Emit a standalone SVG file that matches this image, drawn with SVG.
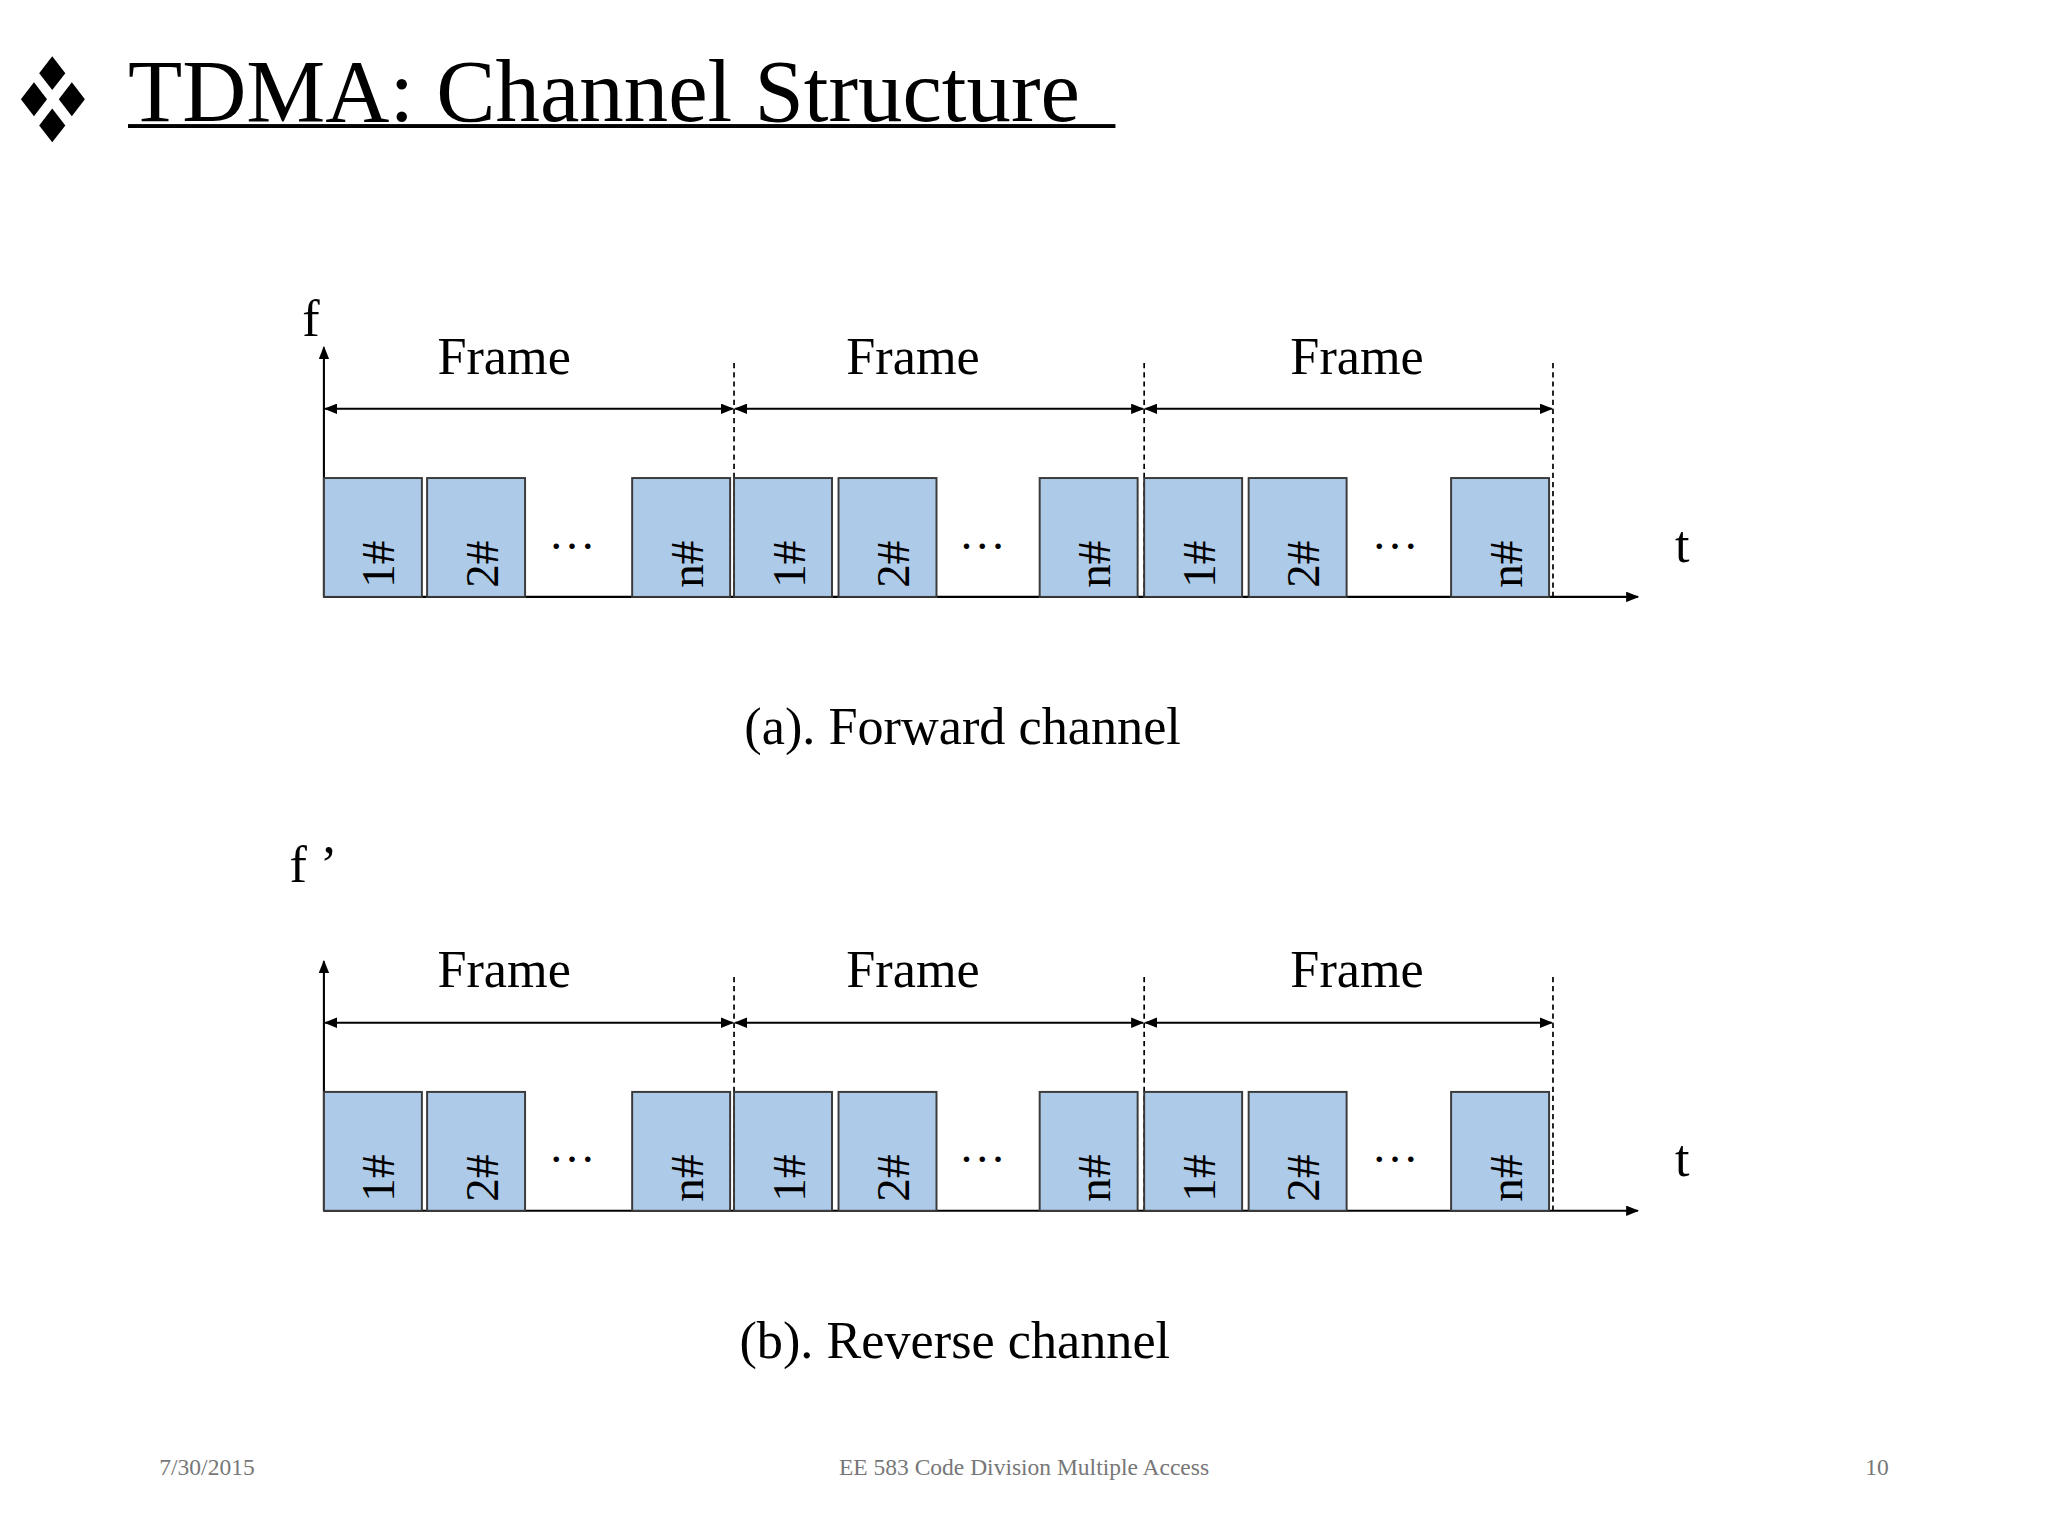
<svg xmlns="http://www.w3.org/2000/svg" width="2048" height="1536" viewBox="0 0 2048 1536">
<defs>
<style>
text{font-family:"Liberation Serif","Times New Roman",serif;fill:#000}
.slot{fill:#adcbe8;stroke:#3a3a3a;stroke-width:1.5}
.sl{font-size:36px}
.fr{font-size:40px;text-anchor:middle}
.ln{stroke:#000;stroke-width:1.6;fill:none}
.ds{stroke:#000;stroke-width:1.3;stroke-dasharray:4,3;fill:none}
.ft{font-size:18px;fill:#777}
</style>
<marker id="ah" markerWidth="10" markerHeight="8" refX="9" refY="4" orient="auto-start-reverse" markerUnits="userSpaceOnUse"><path d="M0,0 L10,4 L0,8 z" fill="#000"/></marker>
</defs>
<rect width="2048" height="1536" fill="#fff"/>
<g transform="scale(1.306122)">
<g id="title">
<polygon points="40,43 50,56 40,69 30,56" fill="#000"/>
<polygon points="26,63 36,76 26,89 16,76" fill="#000"/>
<polygon points="55,63 65,76 55,89 45,76" fill="#000"/>
<polygon points="40,83 50,96 40,109 30,96" fill="#000"/>
<text x="98" y="93" style="font-size:68px">TDMA: Channel Structure</text>
<rect x="98" y="95" width="756" height="3" fill="#000"/>
</g>
<g id="diagram-a">
<text x="238" y="257" style="font-size:40px" text-anchor="middle">f</text>
<text x="1288" y="430" style="font-size:40px" text-anchor="middle">t</text>
<g class="connectors">
<line class="ln" x1="248" y1="457" x2="248" y2="266" marker-end="url(#ah)"/>
<line class="ln" x1="248" y1="457" x2="1254" y2="457" marker-end="url(#ah)"/>
<line class="ds" x1="562" y1="278" x2="562" y2="457"/>
<line class="ds" x1="876" y1="278" x2="876" y2="457"/>
<line class="ds" x1="1189" y1="278" x2="1189" y2="457"/>
<line class="ln" x1="249" y1="313" x2="561" y2="313" marker-start="url(#ah)" marker-end="url(#ah)"/>
<line class="ln" x1="563" y1="313" x2="875" y2="313" marker-start="url(#ah)" marker-end="url(#ah)"/>
<line class="ln" x1="877" y1="313" x2="1188" y2="313" marker-start="url(#ah)" marker-end="url(#ah)"/>
</g>
<text class="fr" x="386" y="286">Frame</text>
<text class="fr" x="699" y="286">Frame</text>
<text class="fr" x="1039" y="286">Frame</text>
<g id="a1"><rect class="slot" x="248" y="366" width="75" height="91"/><text class="sl" transform="translate(302,450) rotate(-90)">1#</text></g>
<g id="a2"><rect class="slot" x="327" y="366" width="75" height="91"/><text class="sl" transform="translate(381,450) rotate(-90)">2#</text></g>
<text x="438" y="420" style="font-size:36px" text-anchor="middle">…</text>
<g id="a3"><rect class="slot" x="484" y="366" width="75" height="91"/><text class="sl" transform="translate(538,450) rotate(-90)">n#</text></g>
<g id="a4"><rect class="slot" x="562" y="366" width="75" height="91"/><text class="sl" transform="translate(616,450) rotate(-90)">1#</text></g>
<g id="a5"><rect class="slot" x="642" y="366" width="75" height="91"/><text class="sl" transform="translate(696,450) rotate(-90)">2#</text></g>
<text x="752" y="420" style="font-size:36px" text-anchor="middle">…</text>
<g id="a6"><rect class="slot" x="796" y="366" width="75" height="91"/><text class="sl" transform="translate(850,450) rotate(-90)">n#</text></g>
<g id="a7"><rect class="slot" x="876" y="366" width="75" height="91"/><text class="sl" transform="translate(930,450) rotate(-90)">1#</text></g>
<g id="a8"><rect class="slot" x="956" y="366" width="75" height="91"/><text class="sl" transform="translate(1010,450) rotate(-90)">2#</text></g>
<text x="1068" y="420" style="font-size:36px" text-anchor="middle">…</text>
<g id="a9"><rect class="slot" x="1111" y="366" width="75" height="91"/><text class="sl" transform="translate(1165,450) rotate(-90)">n#</text></g>
<text class="fr" x="737" y="570">(a). Forward channel</text>
</g>
<g id="diagram-b">
<text x="240" y="675" style="font-size:40px" text-anchor="middle">f ’</text>
<text x="1288" y="900" style="font-size:40px" text-anchor="middle">t</text>
<g class="connectors">
<line class="ln" x1="248" y1="927" x2="248" y2="736" marker-end="url(#ah)"/>
<line class="ln" x1="248" y1="927" x2="1254" y2="927" marker-end="url(#ah)"/>
<line class="ds" x1="562" y1="748" x2="562" y2="927"/>
<line class="ds" x1="876" y1="748" x2="876" y2="927"/>
<line class="ds" x1="1189" y1="748" x2="1189" y2="927"/>
<line class="ln" x1="249" y1="783" x2="561" y2="783" marker-start="url(#ah)" marker-end="url(#ah)"/>
<line class="ln" x1="563" y1="783" x2="875" y2="783" marker-start="url(#ah)" marker-end="url(#ah)"/>
<line class="ln" x1="877" y1="783" x2="1188" y2="783" marker-start="url(#ah)" marker-end="url(#ah)"/>
</g>
<text class="fr" x="386" y="756">Frame</text>
<text class="fr" x="699" y="756">Frame</text>
<text class="fr" x="1039" y="756">Frame</text>
<g id="b1"><rect class="slot" x="248" y="836" width="75" height="91"/><text class="sl" transform="translate(302,920) rotate(-90)">1#</text></g>
<g id="b2"><rect class="slot" x="327" y="836" width="75" height="91"/><text class="sl" transform="translate(381,920) rotate(-90)">2#</text></g>
<text x="438" y="890" style="font-size:36px" text-anchor="middle">…</text>
<g id="b3"><rect class="slot" x="484" y="836" width="75" height="91"/><text class="sl" transform="translate(538,920) rotate(-90)">n#</text></g>
<g id="b4"><rect class="slot" x="562" y="836" width="75" height="91"/><text class="sl" transform="translate(616,920) rotate(-90)">1#</text></g>
<g id="b5"><rect class="slot" x="642" y="836" width="75" height="91"/><text class="sl" transform="translate(696,920) rotate(-90)">2#</text></g>
<text x="752" y="890" style="font-size:36px" text-anchor="middle">…</text>
<g id="b6"><rect class="slot" x="796" y="836" width="75" height="91"/><text class="sl" transform="translate(850,920) rotate(-90)">n#</text></g>
<g id="b7"><rect class="slot" x="876" y="836" width="75" height="91"/><text class="sl" transform="translate(930,920) rotate(-90)">1#</text></g>
<g id="b8"><rect class="slot" x="956" y="836" width="75" height="91"/><text class="sl" transform="translate(1010,920) rotate(-90)">2#</text></g>
<text x="1068" y="890" style="font-size:36px" text-anchor="middle">…</text>
<g id="b9"><rect class="slot" x="1111" y="836" width="75" height="91"/><text class="sl" transform="translate(1165,920) rotate(-90)">n#</text></g>
<text class="fr" x="731" y="1040">(b). Reverse channel</text>
</g>
<g id="footer">
<text class="ft" x="122" y="1129">7/30/2015</text>
<text class="ft" x="784" y="1129" text-anchor="middle">EE 583 Code Division Multiple Access</text>
<text class="ft" x="1446" y="1129" text-anchor="end">10</text>
</g>
</g>
</svg>
